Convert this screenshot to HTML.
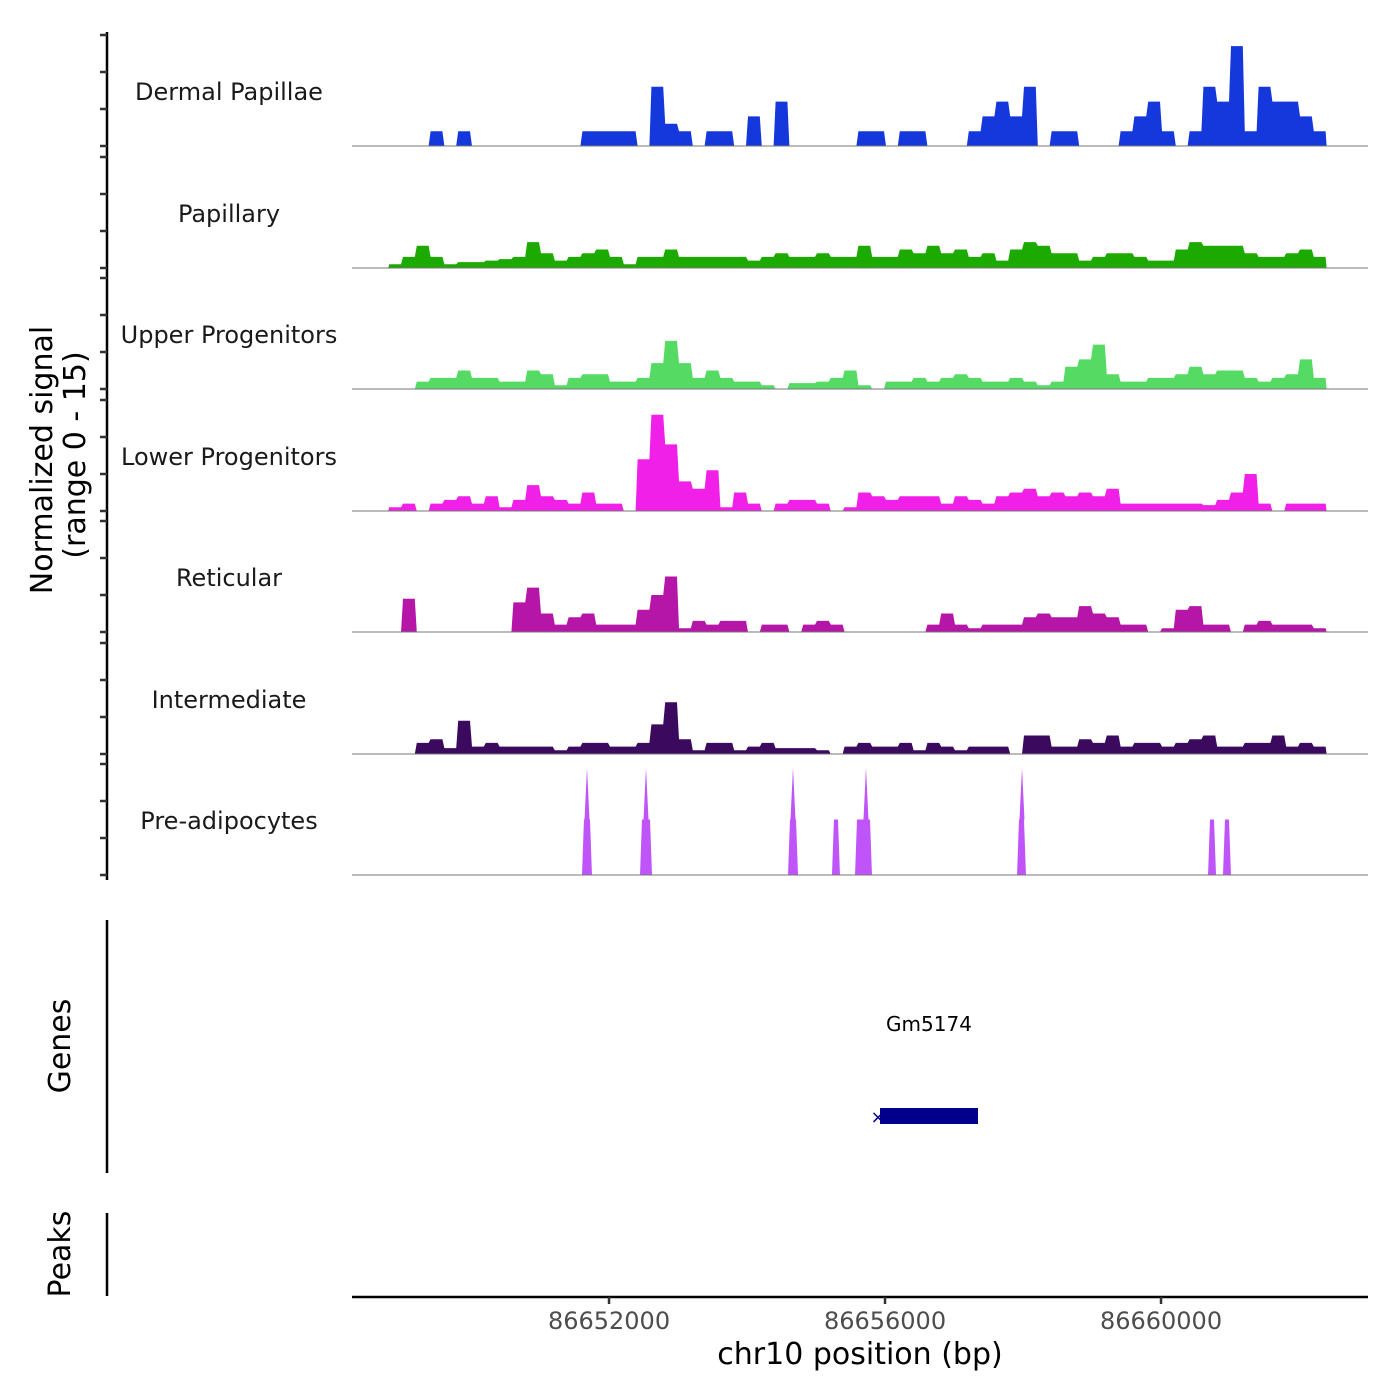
<!DOCTYPE html>
<html><head><meta charset="utf-8">
<style>
html,body{margin:0;padding:0;background:#fff;}
svg{display:block;font-family:"DejaVu Sans","Liberation Sans",sans-serif;}
</style></head>
<body>
<svg id="chart" width="1400" height="1400" viewBox="0 0 1400 1400" xmlns="http://www.w3.org/2000/svg">
<g id="tracks"></g>
<g id="yaxis"></g>
<text transform="translate(52,460) rotate(-90)" text-anchor="middle" font-size="30" fill="#000">Normalized signal</text>
<text transform="translate(85,455) rotate(-90)" text-anchor="middle" font-size="30" fill="#000">(range 0 - 15)</text>
<line x1="107" y1="920" x2="107" y2="1173" stroke="#000" stroke-width="2.5"/>
<text transform="translate(70,1046) rotate(-90)" text-anchor="middle" font-size="30" fill="#000">Genes</text>
<line x1="107" y1="1213" x2="107" y2="1296" stroke="#000" stroke-width="2.5"/>
<text transform="translate(70,1254) rotate(-90)" text-anchor="middle" font-size="30" fill="#000">Peaks</text>
<g>
<text x="929" y="1031" text-anchor="middle" font-size="20" fill="#000">Gm5174</text>
<rect x="880" y="1108" width="98" height="16" fill="#00008B"/>
<text x="878" y="1123" text-anchor="middle" font-size="18" fill="#00008B">×</text>
</g>
<g id="xaxis"></g>
<text x="860" y="1364" text-anchor="middle" font-size="30" fill="#000">chr10 position (bp)</text>
</svg>
<script>
const trackNames=["Dermal Papillae","Papillary","Upper Progenitors","Lower Progenitors","Reticular","Intermediate","Pre-adipocytes"];
const trackColors=["#1538DC","#1DAA00","#55DA64","#F020E8","#B516A8","#3B0A5E","#BF55F8"];
const binStart=86648800;
const binSize=200;
const dermalPapillae=[0,0,0,2,0,2,0,0,0,0,0,0,0,0,2,2,2,2,0,8,3,2,0,2,2,0,4,0,6,0,0,0,0,0,2,2,0,2,2,0,0,0,2,4,6,4,8,0,2,2,0,0,0,2,4,6,2,0,2,8,6,13.5,2,8,6,6,4,2];
const papillary=[0.5,1.5,3,1.5,0.5,0.8,0.8,1,1.2,1.5,3.5,2,1,1.5,2,2.5,1.5,0.5,1.5,1.5,2.5,1.5,1.5,1.5,1.5,1.5,1,1.5,2,1.5,1.5,2,1.5,1.5,3,1.5,1.5,2.5,2,3,2,2.5,1.5,2,1,2.5,3.5,3,2,2,1,1.5,2,2,1.5,1,1,2.5,3.5,3,3,3,2,1.5,1.5,2,2.5,1.5];
const upperProgenitors=[0,0,1,1.5,1.5,2.5,1.5,1.5,1,1,2.5,2,0.5,1.5,2,2,1,1,1.5,3.5,6.5,3.5,1.5,2.5,1.5,1,1,0.5,0,0.8,0.8,1,1.5,2.5,0.5,0,1,1,1.5,1,1.5,2,1.5,1,1,1.5,1,0.5,1,3,4,6,2,1,1,1.5,1.5,2,3,2,2.5,2.5,1.5,1,1.5,2,4,1.5];
const lowerProgenitors=[0.5,1,0,1,1.5,2,1,2,0.5,1.5,3.5,2,1.5,1,2.5,1,1,0,7,13,9,4,3,5.5,0.5,2.5,1,0,1,1.5,1.5,1,0,0.5,2.5,2,1.5,2,2,2,1,2,1.5,1,2,2.5,3,2,2.5,2,2.5,2,3,1,1,1,1,1,1,0.8,1.5,2.5,5,1,0,1,1,1];
const reticular=[0,4.5,0,0,0,0,0,0,0,4,6,2.5,1,2,2.5,1,1,1,3,5,7.5,0.5,1.5,1,1.5,1.5,0,1,1,0,1,1.5,1,0,0,0,0,0,0,1,2.5,1,0.5,1,1,1,2,2.5,2,2,3.5,2.5,2,1,1,0,0.5,3,3.5,1,1,0,1,1.5,1,1,1,0.5];
const intermediate=[0,0,1.5,2,0.8,4.5,1,1.5,1,1,1,1,0.5,1,1.5,1.5,1,1,1.5,4,7,2,0.5,1.5,1.5,0.5,1,1.5,0.8,0.8,0.8,0.5,0,1,1.5,1,1,1.5,0.5,1.5,1,0.5,1,1,1,0,2.5,2.5,1,1,2,1.5,2.5,1,1.5,1.5,1,1.5,2,2.5,1,1,1.5,1.5,2.5,1,1.5,1];
const preStart=[86651608,86652449,86654594,86655231,86655565,86657913,86660681,86660898];
const preEnd=[86651753,86652623,86654739,86655347,86655811,86658043,86660797,86661014];
const preHeight=[7.5,7.5,7.5,7.5,7.5,7.5,7.5,7.5];
const preSpikePos=[86651681,86652536,86654666,86655724,86657985];
const preSpikeHeight=[14.5,14.5,14.5,14.5,14.5];
const xTicks=[86652000,86656000,86660000];
const yTicks=[0,5,10,15];

const NS="http://www.w3.org/2000/svg";
const plotL=352,plotR=1368;
const bpL=86648275,pxPerBp=0.069;
const X=bp=>plotL+(bp-bpL)*pxPerBp;
const baselines=[146,268,389,511,632,754,875];
const yScale=7.4;
const Y=(t,v)=>baselines[t]-v*yScale;
function mk(tag,attrs,parent){const e=document.createElementNS(NS,tag);for(const k in attrs)e.setAttribute(k,attrs[k]);parent.appendChild(e);return e;}
const tracksG=document.getElementById('tracks');
const binned=[dermalPapillae,papillary,upperProgenitors,lowerProgenitors,reticular,intermediate];
const keys=["dermal-papillae","papillary","upper-progenitors","lower-progenitors","reticular","intermediate","pre-adipocytes"];
for(let t=0;t<7;t++){
  const g=mk('g',{},tracksG);
  
  
  let d='';
  if(t<6){
    const arr=binned[t];
    d='M'+X(binStart)+','+baselines[t];
    for(let i=0;i<arr.length;i++){
      const x0=X(binStart+i*binSize),x1=X(binStart+(i+1)*binSize);
      const y=Y(t,arr[i]);
      d+=' L'+(x0+1).toFixed(1)+','+y.toFixed(1)+' L'+(x1-1).toFixed(1)+','+y.toFixed(1);
    }
    d+=' L'+X(binStart+arr.length*binSize)+','+baselines[t]+' Z';
  } else {
    for(let i=0;i<preStart.length;i++){
      const x0=X(preStart[i]),x1=X(preEnd[i]),y=Y(t,preHeight[i]);
      d+='M'+x0+','+baselines[t]+' L'+(x0+2)+','+y+' L'+(x1-2)+','+y+' L'+x1+','+baselines[t]+' Z ';
    }
    for(let i=0;i<preSpikePos.length;i++){
      const xc=X(preSpikePos[i]),y=Y(t,preSpikeHeight[i]),y2=Y(t,preHeight[0]);
      d+='M'+(xc-2.5)+','+y2+' L'+xc+','+y+' L'+(xc+2.5)+','+y2+' Z ';
    }
  }
  const p=mk('path',{d:d,fill:trackColors[t]},g);
  
  
  const bl=mk('line',{x1:plotL,x2:plotR,y1:baselines[t],y2:baselines[t],stroke:'#777','stroke-width':1},g);
  
  
  const lb=mk('text',{x:229,y:baselines[t]-46,'text-anchor':'middle','font-size':24,fill:'#1a1a1a'},g);
  
  
  lb.textContent=trackNames[t];
}
const ya=document.getElementById('yaxis');
const al=mk('line',{x1:107,x2:107,y1:32,y2:880,stroke:'#000','stroke-width':2.5},ya);


for(let t=0;t<7;t++){for(const v of yTicks){
  const tk=mk('line',{x1:100,x2:107,y1:Y(t,v),y2:Y(t,v),stroke:'#333','stroke-width':2.5},ya);
  
  
}}
const xa=document.getElementById('xaxis');
const xl=mk('line',{x1:plotL,x2:plotR,y1:1297,y2:1297,stroke:'#000','stroke-width':2.5},xa);


for(const v of xTicks){
  const tk=mk('line',{x1:X(v),x2:X(v),y1:1297,y2:1304,stroke:'#333','stroke-width':2.5},xa);
  
  
  const tl=mk('text',{x:X(v),y:1329,'text-anchor':'middle','font-size':24,fill:'#4d4d4d'},xa);
  
  
  tl.textContent=String(v);
}
</script>
</body></html>
